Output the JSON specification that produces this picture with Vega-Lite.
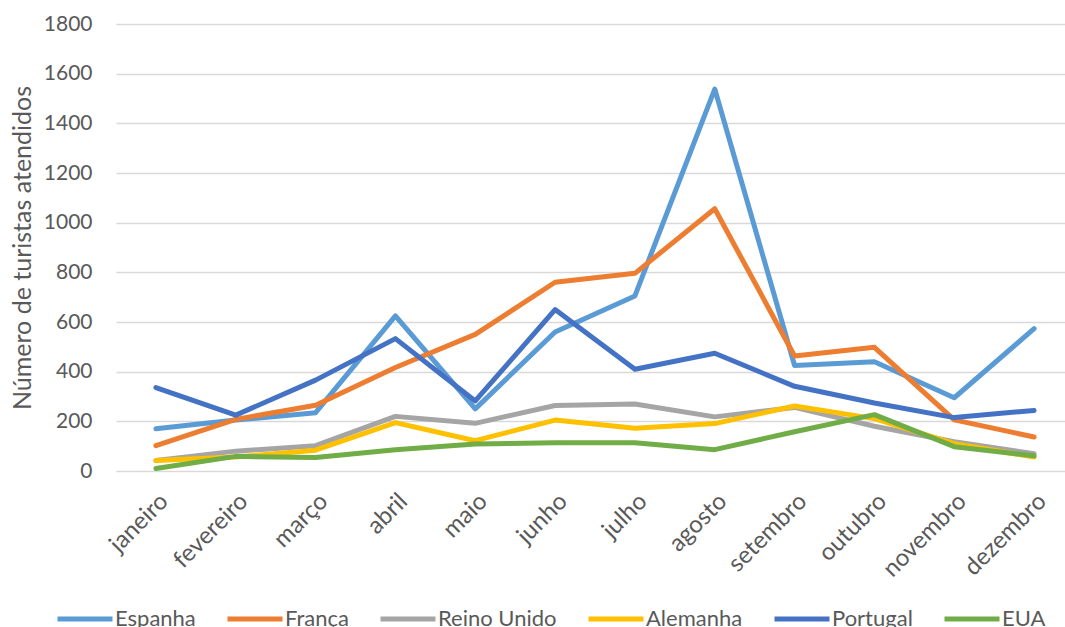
{
  "$schema": "https://vega.github.io/schema/vega-lite/v6.json",
  "autosize": {"type": "none"},
  "width": 958,
  "height": 447,
  "padding": {"left": 116, "top": 24, "right": -9, "bottom": 156},
  "background": "white",
  "config": {
    "view": {"stroke": null},
    "font": "Lato",
    "axis": {"labelFont": "Lato", "titleFont": "Lato", "labelColor": "#595959", "titleColor": "#595959", "labelFontSize": 21, "titleFontSize": 25, "titleFontWeight": "normal"},
    "legend": {"labelFont": "Lato", "labelFontSize": 22, "labelColor": "#595959"}
  },
  "data": {
    "values": [
      {"mes": "janeiro", "pais": "Espanha", "v": 170},
      {"mes": "fevereiro", "pais": "Espanha", "v": 205},
      {"mes": "março", "pais": "Espanha", "v": 235},
      {"mes": "abril", "pais": "Espanha", "v": 625},
      {"mes": "maio", "pais": "Espanha", "v": 250},
      {"mes": "junho", "pais": "Espanha", "v": 560},
      {"mes": "julho", "pais": "Espanha", "v": 705},
      {"mes": "agosto", "pais": "Espanha", "v": 1538},
      {"mes": "setembro", "pais": "Espanha", "v": 425},
      {"mes": "outubro", "pais": "Espanha", "v": 440},
      {"mes": "novembro", "pais": "Espanha", "v": 295},
      {"mes": "dezembro", "pais": "Espanha", "v": 573},
      {"mes": "janeiro", "pais": "França", "v": 102},
      {"mes": "fevereiro", "pais": "França", "v": 208},
      {"mes": "março", "pais": "França", "v": 265},
      {"mes": "abril", "pais": "França", "v": 417},
      {"mes": "maio", "pais": "França", "v": 550},
      {"mes": "junho", "pais": "França", "v": 760},
      {"mes": "julho", "pais": "França", "v": 796},
      {"mes": "agosto", "pais": "França", "v": 1056},
      {"mes": "setembro", "pais": "França", "v": 463},
      {"mes": "outubro", "pais": "França", "v": 498},
      {"mes": "novembro", "pais": "França", "v": 206},
      {"mes": "dezembro", "pais": "França", "v": 137},
      {"mes": "janeiro", "pais": "Reino Unido", "v": 42},
      {"mes": "fevereiro", "pais": "Reino Unido", "v": 80},
      {"mes": "março", "pais": "Reino Unido", "v": 102},
      {"mes": "abril", "pais": "Reino Unido", "v": 220},
      {"mes": "maio", "pais": "Reino Unido", "v": 192},
      {"mes": "junho", "pais": "Reino Unido", "v": 264},
      {"mes": "julho", "pais": "Reino Unido", "v": 270},
      {"mes": "agosto", "pais": "Reino Unido", "v": 218},
      {"mes": "setembro", "pais": "Reino Unido", "v": 256},
      {"mes": "outubro", "pais": "Reino Unido", "v": 180},
      {"mes": "novembro", "pais": "Reino Unido", "v": 118},
      {"mes": "dezembro", "pais": "Reino Unido", "v": 70},
      {"mes": "janeiro", "pais": "Alemanha", "v": 42},
      {"mes": "fevereiro", "pais": "Alemanha", "v": 56},
      {"mes": "março", "pais": "Alemanha", "v": 84},
      {"mes": "abril", "pais": "Alemanha", "v": 195},
      {"mes": "maio", "pais": "Alemanha", "v": 122},
      {"mes": "junho", "pais": "Alemanha", "v": 205},
      {"mes": "julho", "pais": "Alemanha", "v": 172},
      {"mes": "agosto", "pais": "Alemanha", "v": 191},
      {"mes": "setembro", "pais": "Alemanha", "v": 262},
      {"mes": "outubro", "pais": "Alemanha", "v": 211},
      {"mes": "novembro", "pais": "Alemanha", "v": 110},
      {"mes": "dezembro", "pais": "Alemanha", "v": 56},
      {"mes": "janeiro", "pais": "Portugal", "v": 336},
      {"mes": "fevereiro", "pais": "Portugal", "v": 225},
      {"mes": "março", "pais": "Portugal", "v": 366},
      {"mes": "abril", "pais": "Portugal", "v": 533},
      {"mes": "maio", "pais": "Portugal", "v": 282},
      {"mes": "junho", "pais": "Portugal", "v": 650},
      {"mes": "julho", "pais": "Portugal", "v": 410},
      {"mes": "agosto", "pais": "Portugal", "v": 474},
      {"mes": "setembro", "pais": "Portugal", "v": 341},
      {"mes": "outubro", "pais": "Portugal", "v": 274},
      {"mes": "novembro", "pais": "Portugal", "v": 215},
      {"mes": "dezembro", "pais": "Portugal", "v": 244},
      {"mes": "janeiro", "pais": "EUA", "v": 10},
      {"mes": "fevereiro", "pais": "EUA", "v": 59},
      {"mes": "março", "pais": "EUA", "v": 54},
      {"mes": "abril", "pais": "EUA", "v": 86},
      {"mes": "maio", "pais": "EUA", "v": 109},
      {"mes": "junho", "pais": "EUA", "v": 114},
      {"mes": "julho", "pais": "EUA", "v": 114},
      {"mes": "agosto", "pais": "EUA", "v": 86},
      {"mes": "setembro", "pais": "EUA", "v": 158},
      {"mes": "outubro", "pais": "EUA", "v": 227},
      {"mes": "novembro", "pais": "EUA", "v": 98},
      {"mes": "dezembro", "pais": "EUA", "v": 61}
    ]
  },
  "mark": {"type": "line", "strokeWidth": 5, "strokeJoin": "round", "strokeCap": "round"},
  "encoding": {
    "x": {
      "field": "mes", "type": "nominal", "sort": null,
      "scale": {"type": "band", "paddingInner": 0, "paddingOuter": 0},
      "axis": {"title": null, "labelAngle": -45, "labelPadding": 18, "labelFontSize": 24, "ticks": false, "domain": false, "grid": false}
    },
    "y": {
      "field": "v", "type": "quantitative",
      "scale": {"domain": [0, 1800], "nice": false, "zero": true},
      "axis": {"title": "Número de turistas atendidos", "format": "d", "values": [0, 200, 400, 600, 800, 1000, 1200, 1400, 1600, 1800], "grid": true, "gridColor": "#d9d9d9", "gridWidth": 1.5, "domain": false, "ticks": false, "labelPadding": 24, "titlePadding": 8}
    },
    "color": {
      "field": "pais", "type": "nominal", "sort": null,
      "scale": {"domain": ["Espanha", "França", "Reino Unido", "Alemanha", "Portugal", "EUA"], "range": ["#5B9BD5", "#ED7D31", "#A5A5A5", "#FFC000", "#4472C4", "#70AD47"]},
      "legend": {"title": null, "orient": "none", "direction": "horizontal", "legendX": -61, "legendY": 565, "symbolType": "stroke", "symbolSize": 3025, "symbolStrokeWidth": 5, "labelOffset": 0, "columnPadding": 21}
    }
  }
}
